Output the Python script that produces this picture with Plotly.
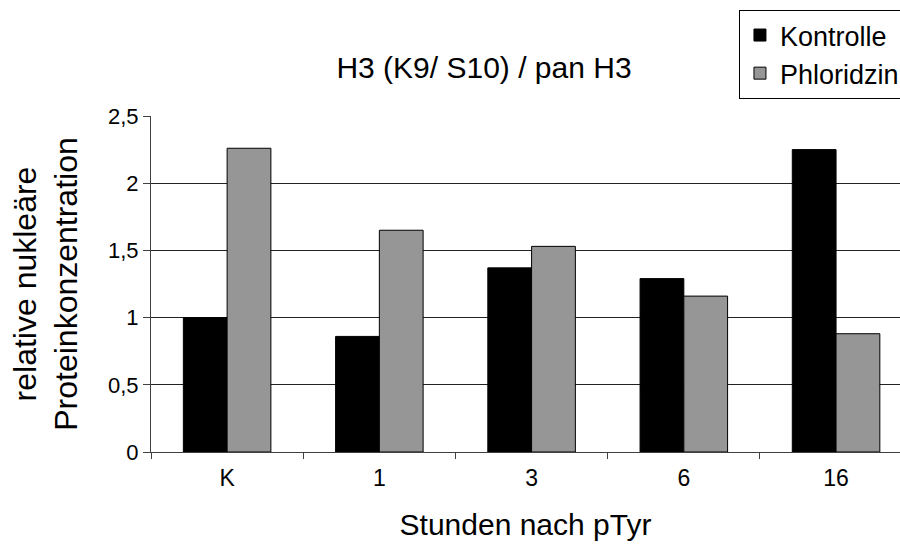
import plotly.graph_objects as go

categories = ["K", "1", "3", "6", "16"]
kontrolle = [1.0, 0.86, 1.37, 1.29, 2.25]
phloridzin = [2.26, 1.65, 1.53, 1.16, 0.88]
y_ticks = [0, 0.5, 1, 1.5, 2, 2.5]

font_family = "Liberation Sans, Arial, sans-serif"

fig = go.Figure()
fig.add_trace(go.Bar(x=categories, y=kontrolle, name="Kontrolle",
                     marker=dict(color="#000000", line=dict(color="#000000", width=1))))
fig.add_trace(go.Bar(x=categories, y=phloridzin, name="Phloridzin",
                     marker=dict(color="#969696", line=dict(color="#000000", width=1))))

fig.update_layout(
    width=900, height=545,
    margin=dict(l=151, r=0, t=116, b=93, autoexpand=False),
    paper_bgcolor="white", plot_bgcolor="white",
    separators=",.",
    font=dict(family=font_family, color="#000000"),
    barmode="group", bargap=0.425, bargroupgap=0,
    title=dict(text="H3 (K9/ S10) / pan H3", x=0.4446, xref="paper", xanchor="center",
               y=1 - 67 / 545, yref="container", yanchor="middle",
               font=dict(size=30, family=font_family)),
    legend=dict(x=0.785, y=1.3155, xanchor="left", yanchor="top",
                bgcolor="white", bordercolor="#000000", borderwidth=1,
                font=dict(size=27, family=font_family),
                itemwidth=30),
    showlegend=True,
)
fig.update_xaxes(
    type="category", range=[-0.5, 4.42],
    showline=True, linecolor="#404040", linewidth=1,
    ticks="outside", tickson="boundaries", ticklen=6, tickcolor="#404040",
    tickfont=dict(size=23, family=font_family), ticklabelstandoff=5,
    showgrid=False,
    title=dict(text="Stunden nach pTyr", font=dict(size=30, family=font_family), standoff=24),
)
fig.update_yaxes(
    range=[0, 2.5], tickvals=y_ticks,
    showline=True, linecolor="#404040", linewidth=1,
    ticks="outside", ticklen=7, tickcolor="#404040",
    tickfont=dict(size=22, family=font_family),
    showgrid=True, gridcolor="#222222", gridwidth=1,
    zeroline=False,
    title=dict(text="relative nukleäre<br>Proteinkonzentration",
               font=dict(size=32, family=font_family), standoff=20),
)

fig.write_html("out.html", config={"displayModeBar": False},
               post_script="document.body.style.margin='0px';")
